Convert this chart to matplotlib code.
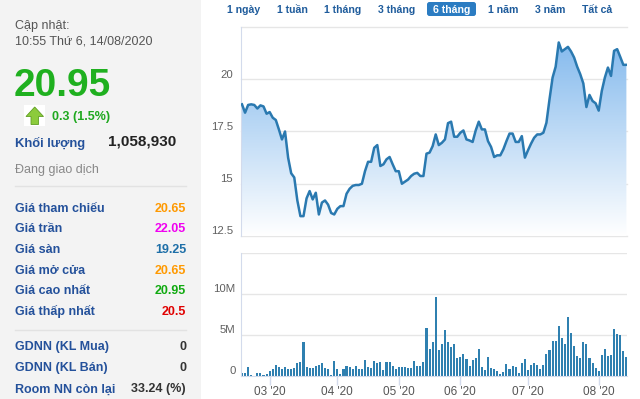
import numpy as np
import pandas as pd
import matplotlib
matplotlib.use('Agg')
import matplotlib.pyplot as plt
from matplotlib.patches import Rectangle, Polygon, FancyBboxPatch
from matplotlib.colors import LinearSegmentedColormap

plt.rcParams['font.family'] = ['Liberation Sans', 'DejaVu Sans']

# ---------------- data ----------------
price = [18.8, 18.4, 18.77, 18.8, 18.77, 18.6, 18.75, 18.7, 18.35, 18.43,
         18.16, 18.05, 17.6, 17.12, 17.5, 16.25, 15.5, 15.3, 14.2, 13.45,
         13.45, 14.3, 14.65, 14.25, 14.57, 13.53, 14.1, 14.2, 14.0, 13.6,
         13.53, 13.8, 13.93, 13.93, 14.52, 14.76, 14.9, 14.94, 14.94, 15.0,
         15.6, 16.05, 16.05, 16.72, 16.85, 15.85, 15.93, 16.17, 16.28, 15.93,
         15.6, 15.6, 15.0, 15.1, 15.2, 15.37, 15.48, 15.52, 15.37, 15.37,
         16.44, 16.49, 16.8, 17.36, 16.85, 16.96, 17.12, 17.9, 17.97, 17.25,
         17.25, 17.44, 17.55, 17.12, 17.07, 17.0, 17.55, 17.97, 17.6, 17.6,
         17.04, 16.76, 16.28, 16.36, 16.36, 16.65, 17.04, 17.4, 17.4, 17.0,
         17.0, 17.28, 16.25, 16.6, 16.92, 17.2, 17.36, 17.36, 17.44, 17.92,
         19.04, 20.08, 20.6, 21.76, 21.33, 21.44, 21.55, 21.33, 21.04, 20.6,
         20.24, 19.8, 18.67, 19.25, 18.96, 18.85, 18.5, 19.44, 20.08, 20.56,
         20.16, 21.36, 21.44, 21.07, 20.69, 20.69]

volume_m = [0.4, 0.4, 1.1, 0.15, 0.05, 0.4, 0.4, 0.1, 0.2, 0.6,
            0.9, 1.4, 1.1, 0.9, 1.1, 0.9, 0.8, 1.0, 1.6, 1.7,
            4.15, 1.1, 1.0, 1.0, 1.2, 1.3, 1.6, 1.0, 0.8, 0.15,
            1.8, 0.9, 0.3, 0.9, 1.2, 1.1, 0.8, 1.2, 0.9, 0.9,
            1.9, 1.1, 1.0, 1.8, 1.6, 1.7, 0.7, 1.7, 1.7, 1.2,
            0.85, 1.1, 1.1, 1.1, 1.0, 1.0, 1.8, 1.2, 1.2, 1.7,
            5.9, 3.35, 4.15, 9.6, 3.15, 3.9, 5.6, 4.1, 3.55, 3.95,
            2.25, 2.3, 2.65, 2.1, 1.2, 1.9, 2.15, 3.25, 1.1, 0.7,
            2.3, 1.0, 0.9, 0.6, 0.3, 0.5, 1.45, 0.9, 1.2, 1.1,
            0.35, 1.6,
            2.05, 0.7, 1.3, 1.6, 1.4, 0.9, 1.3, 2.65, 3.2, 4.25,
            4.25, 6.1, 4.6, 3.95, 7.2, 5.3, 3.6, 2.5, 2.2, 4.1,
            3.85, 2.2, 1.6, 1.0, 0.6, 2.6, 3.35, 2.45, 2.55, 5.7,
            5.1, 5.0, 3.05, 2.3]

start_date = '2020-02-18'
end_date = '2020-08-14'
holidays = ['2020-04-02', '2020-04-30', '2020-05-01']

price_ticks = [12.5, 15, 17.5, 20]
price_tick_labels = ['12.5', '15', '17.5', '20']
vol_ticks = [0, 5, 10]
vol_tick_labels = ['0', '5M', '10M']

update_label = 'Cập nhật:'
update_time = '10:55 Thứ 6, 14/08/2020'
last_price = '20.95'
change_text = '0.3 (1.5%)'
volume_label = 'Khối lượng'
volume_value = '1,058,930'
status_text = 'Đang giao dịch'

info_labels = ['Giá tham chiếu', 'Giá trần', 'Giá sàn', 'Giá mở cửa',
               'Giá cao nhất', 'Giá thấp nhất']
info_values = ['20.65', '22.05', '19.25', '20.65', '20.95', '20.5']
info_colors = ['#ff9900', '#f000f0', '#1e6fa8', '#ff9900', '#10aa10', '#e00000']

foreign_labels = ['GDNN (KL Mua)', 'GDNN (KL Bán)', 'Room NN còn lại']
foreign_values = ['0', '0', '33.24 (%)']

range_buttons = ['1 ngày', '1 tuần', '1 tháng', '3 tháng', '6 tháng',
                 '1 năm', '3 năm', 'Tất cả']
selected_button = '6 tháng'

# ---------------- layout ----------------
W, H = 640, 399
fig = plt.figure(figsize=(W / 100, H / 100), dpi=100)
fig.patch.set_facecolor('white')

bg = fig.add_axes([0, 0, 1, 1])
bg.set_xlim(0, W)
bg.set_ylim(H, 0)
bg.axis('off')
bg.set_zorder(0)

BLUE = '#24519b'
bg.add_patch(Rectangle((0, 0), 201, H, facecolor='#f3f3f3', edgecolor='none'))

bg.text(15, 29.5, update_label, fontsize=9, color='#555555', va='baseline')
bg.text(15, 44.5, update_time, fontsize=9, color='#555555', va='baseline')
bg.text(13.5, 95.5, last_price, fontsize=28, fontweight='bold', color='#1fb01f',
        va='baseline')

# up arrow icon
bg.add_patch(Rectangle((24, 105), 21, 21, facecolor='white', edgecolor='none'))
bg.add_patch(Polygon([(26, 116.5), (34.7, 107), (43.5, 116.5), (38.5, 116.5),
                      (38.5, 124.5), (31, 124.5), (31, 116.5)],
                     closed=True, facecolor='#8ccb3c', edgecolor='#5f9e22', lw=0.6))
bg.text(52, 120, change_text, fontsize=9, fontweight='bold', color='#1fa81f',
        va='baseline')

bg.text(15, 146.5, volume_label, fontsize=9.4, fontweight='bold', color=BLUE,
        va='baseline')
bg.text(176.5, 146, volume_value, fontsize=11, fontweight='bold', color='#222222',
        va='baseline', ha='right')
bg.text(15, 173, status_text, fontsize=9, color='#888888', va='baseline')
bg.plot([15, 186], [186, 186], color='#e2e2e2', lw=1)

row_base = 211.7
row_step = 20.6
for k, (lab, val, col) in enumerate(zip(info_labels, info_values, info_colors)):
    yb = row_base + k * row_step
    bg.text(15, yb, lab, fontsize=9, fontweight='bold', color=BLUE, va='baseline')
    bg.text(186, yb, val, fontsize=9, fontweight='bold', color=col, va='baseline',
            ha='right')

bg.plot([15, 186], [330, 330], color='#e2e2e2', lw=1)
for k, (lab, val) in enumerate(zip(foreign_labels, foreign_values)):
    yb = 349.8 + k * 21.3
    bg.text(15, yb, lab, fontsize=9, fontweight='bold', color=BLUE, va='baseline')
    bg.text(186, yb, val, fontsize=9, fontweight='bold', color='#333333',
            va='baseline', ha='right')

# range buttons
button_centers = [243.5, 292, 343, 397, 452, 502.7, 549.7, 597]
for lab, cx in zip(range_buttons, button_centers):
    if lab == selected_button:
        bg.add_patch(FancyBboxPatch((427, 2), 49, 14,
                                    boxstyle='round,pad=0,rounding_size=2.5',
                                    facecolor='#2b7cc2', edgecolor='none'))
        bg.text(cx, 13, lab, fontsize=7.6, fontweight='bold', color='white',
                ha='center', va='baseline')
    else:
        bg.text(cx, 13, lab, fontsize=7.6, fontweight='bold', color='#1f5c9c',
                ha='center', va='baseline')

# ---------------- charts ----------------
dates = pd.bdate_range(start_date, end_date)
dates = dates[~dates.isin(pd.to_datetime(holidays))]
x = np.arange(len(price))
month_idx = [i for i in range(1, len(dates)) if dates[i].month != dates[i - 1].month]
month_lab = [dates[i].strftime("%m '%y") for i in month_idx]

left_px, right_px = 241, 627
xmin, xmax = -0.32, 125.2

def fig_rect(l, t, r, b):
    return [l / W, 1 - b / H, (r - l) / W, (b - t) / H]

GRID = '#e6e6e6'
AXC = '#d3dbec'
LABC = '#606060'

# price panel
ax1 = fig.add_axes(fig_rect(left_px, 27, right_px, 236))
ax1.set_zorder(2)
ax1.set_xlim(xmin, xmax)
ax1.set_ylim(12.5, 22.5)
for v in [12.5, 15, 17.5, 20, 22.5]:
    ax1.axhline(v, color=GRID, lw=1, zorder=0.5, clip_on=False)
cmap = LinearSegmentedColormap.from_list('g', ['#ffffff', '#7cb5ec'])
grad = np.linspace(0, 1, 256).reshape(-1, 1)
im = ax1.imshow(grad, extent=[xmin, xmax, 12.5, 22.5], origin='lower',
                cmap=cmap, aspect='auto', zorder=1, interpolation='bilinear')
poly = ax1.fill_between(x, price, 12.5, facecolor='none', edgecolor='none')
im.set_clip_path(poly.get_paths()[0], transform=ax1.transData)
ax1.plot(x, price, color='#2a79b0', lw=1.8, zorder=3, solid_joinstyle='round')
for s in ['top', 'right', 'bottom']:
    ax1.spines[s].set_visible(False)
ax1.spines['left'].set_color(AXC)
ax1.set_xticks([])
ax1.set_yticks([])
for v, lab in zip(price_ticks, price_tick_labels):
    ax1.annotate(lab, xy=(0, v), xycoords=ax1.get_yaxis_transform(),
                 xytext=(-8 * 0.72, 1.7 * 0.72), textcoords='offset points',
                 ha='right', va='baseline', fontsize=8.2, color=LABC)

# volume panel
ax2 = fig.add_axes(fig_rect(left_px, 253, right_px, 376))
ax2.set_zorder(2)
ax2.set_facecolor('none')
ax2.set_xlim(xmin, xmax)
ax2.set_ylim(0, 15)
for v in [5, 10, 15]:
    ax2.axhline(v, color=GRID, lw=1, zorder=0.5)
ax2.bar(x, volume_m, width=0.68, color='#2f80b0', edgecolor='none', zorder=2)
for s in ['top', 'right']:
    ax2.spines[s].set_visible(False)
ax2.spines['left'].set_color(AXC)
ax2.spines['bottom'].set_color(AXC)
ax2.set_yticks([])
ax2.set_xticks(month_idx)
ax2.set_xticklabels(month_lab)
ax2.tick_params(axis='x', length=6.5, width=1, color=AXC, pad=1,
                labelsize=8.5, labelcolor='#555555')
for v, lab in zip(vol_ticks, vol_tick_labels):
    ax2.annotate(lab, xy=(0, v), xycoords=ax2.get_yaxis_transform(),
                 xytext=(-5.5 * 0.72, 1.8 * 0.72), textcoords='offset points',
                 ha='right', va='baseline', fontsize=8.2, color=LABC)

fig.savefig('out.png', dpi=100)
